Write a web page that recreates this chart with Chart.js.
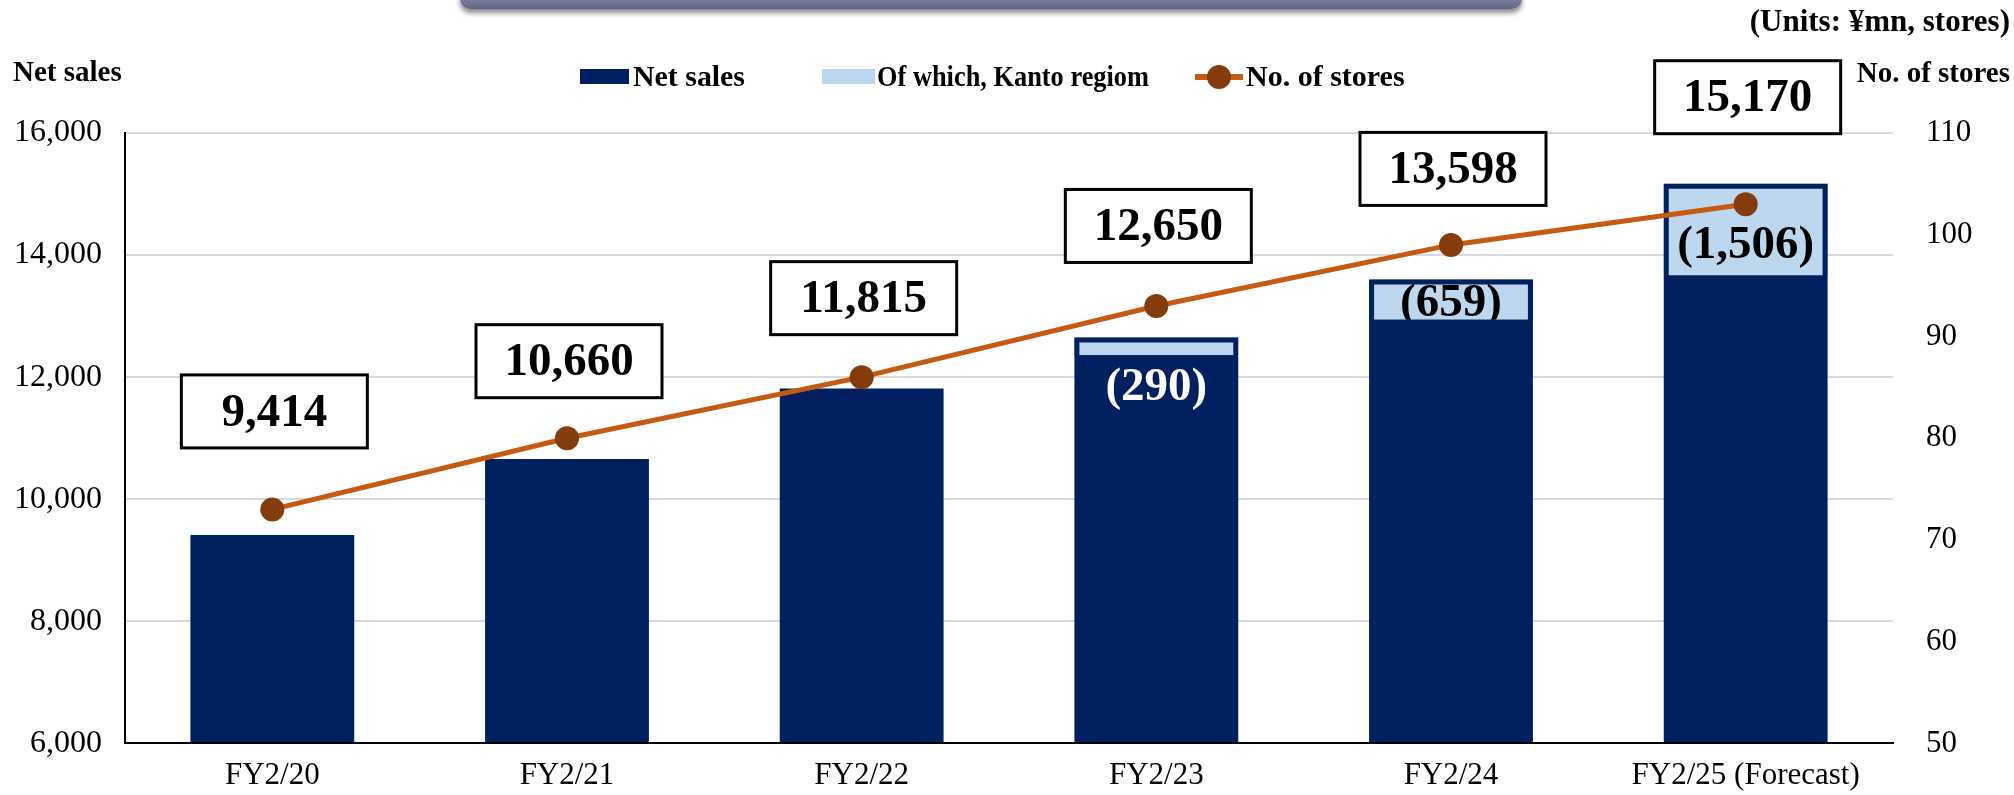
<!DOCTYPE html>
<html>
<head>
<meta charset="utf-8">
<script src="https://cdn.jsdelivr.net/npm/chart.js@4.4.1/dist/chart.umd.min.js"></script>
<style>
html, body { margin: 0; padding: 0; background: #fff; }
#wrap { position: relative; width: 2014px; height: 795px; overflow: hidden; }
#chartSales { position: absolute; left: 0; top: 0; }
#banner {
    position: absolute; left: 460px; top: -14px; width: 1062px; height: 23px;
    border-radius: 10px; background: linear-gradient(#9d9db8, #64648a);
    box-shadow: 0 4px 5px rgba(0, 0, 0, 0.45);
}
</style>
</head>
<body>
<div id="wrap">
    <canvas id="chartSales" width="2014" height="795"></canvas>
    <div id="banner"></div>
</div>
<script>
// ==============================
// Data
// ==============================
const categories = ['FY2/20', 'FY2/21', 'FY2/22', 'FY2/23', 'FY2/24', 'FY2/25 (Forecast)'];
const netSales = [9414, 10660, 11815, 12650, 13598, 15170];
const kantoSales = [null, null, null, 290, 659, 1506];
const storeCounts = [73, 80, 86, 93, 99, 103];
const salesAxis = [6000, 16000, 2000];   // min, max, step
const storeAxis = [50, 110, 10];

// label layout (px) - boxes sit above the store markers, kanto text shifted from box middle
const totalLift = [98, 77, 79, 80, 76, 107];
const kantoShift = [0, 0, 0, 40, 2, 14];
const kantoTextColor = [null, null, null, '#ffffff', '#000000', '#000000'];

const NAVY = '#002060';
const LIGHT = '#BDD7EE';
const ORANGE = '#C55A11';
const BROWN = '#843C0C';
const FONT = '"Liberation Serif", "Times New Roman", serif';

function fmt(v) { return v.toLocaleString('en-US'); }

// ==============================
// Plugins
// ==============================
const valueBoxes = {
    id: 'valueBoxes',
    afterDatasetsDraw(chart) {
        const ctx = chart.ctx;
        const bars = chart.getDatasetMeta(0).data;
        const kanto = chart.getDatasetMeta(1).data;
        const dots = chart.getDatasetMeta(2).data;
        ctx.save();
        ctx.textAlign = 'center';
        ctx.textBaseline = 'middle';
        ctx.font = 'bold 47px ' + FONT;

        // kanto figures
        kantoSales.forEach((v, i) => {
            if (v == null) return;
            const el = kanto[i];
            const x = el.x;
            const y = (el.y + el.base) / 2 + kantoShift[i];
            ctx.save();
            if (kantoTextColor[i] === '#000000') {
                ctx.beginPath();
                ctx.rect(x - el.width / 2, el.y, el.width, el.base - el.y);
                ctx.clip();
            }
            ctx.fillStyle = kantoTextColor[i];
            ctx.fillText('(' + fmt(v) + ')', x, y + 2);
            ctx.restore();
        });

        // totals in boxes
        netSales.forEach((v, i) => {
            const x = bars[i].x + 2;
            const y = dots[i].y - totalLift[i];
            const w = 186, h = 73;
            ctx.fillStyle = '#fff';
            ctx.fillRect(x - w / 2, y - h / 2, w, h);
            ctx.lineWidth = 3;
            ctx.strokeStyle = '#000';
            ctx.strokeRect(x - w / 2, y - h / 2, w, h);
            ctx.fillStyle = '#000';
            ctx.fillText(fmt(v), x, y + 2);
        });
        ctx.restore();
    }
};

const headerTexts = {
    id: 'headerTexts',
    afterDraw(chart) {
        const ctx = chart.ctx;
        const ds = chart.data.datasets;
        ctx.save();
        ctx.fillStyle = '#000';
        ctx.textBaseline = 'alphabetic';

        ctx.font = 'bold 31px ' + FONT;
        ctx.textAlign = 'right';
        ctx.fillText('(Units: ¥mn, stores)', 2010, 31);

        ctx.font = 'bold 29px ' + FONT;
        ctx.fillText('No. of stores', 2010, 82);
        ctx.textAlign = 'left';
        ctx.fillText('Net sales', 13, 81);

        // legend
        ctx.font = 'bold 30px ' + FONT;
        ctx.fillStyle = ds[0].backgroundColor;
        ctx.fillRect(580, 69, 49, 15);
        ctx.fillStyle = '#000';
        ctx.fillText(ds[0].label, 633, 86, 112);

        ctx.fillStyle = ds[1].backgroundColor;
        ctx.fillRect(822, 69, 53, 15);
        ctx.fillStyle = '#000';
        ctx.fillText(ds[1].label, 877, 86, 272);

        ctx.strokeStyle = ds[2].borderColor;
        ctx.lineWidth = 6;
        ctx.beginPath();
        ctx.moveTo(1195, 77);
        ctx.lineTo(1243, 77);
        ctx.stroke();
        ctx.fillStyle = ds[2].pointBackgroundColor;
        ctx.beginPath();
        ctx.arc(1219, 77, 12, 0, Math.PI * 2);
        ctx.fill();
        ctx.fillStyle = '#000';
        ctx.fillText(ds[2].label, 1246, 86, 163);
        ctx.restore();
    }
};

// ==============================
// Chart
// ==============================
const tickFont = { family: FONT, size: 31 };

new Chart(document.getElementById('chartSales'), {
    type: 'bar',
    data: {
        labels: categories,
        datasets: [
            {
                label: 'Net sales',
                data: netSales,
                backgroundColor: NAVY,
                borderWidth: 0,
                grouped: false,
                barPercentage: 0.556,
                categoryPercentage: 1,
                yAxisID: 'y',
                order: 2
            },
            {
                label: 'Of which, Kanto regiom',
                data: kantoSales.map((v, i) => v == null ? null : [netSales[i] - v, netSales[i]]),
                backgroundColor: LIGHT,
                borderColor: NAVY,
                borderWidth: { top: 5, left: 5, right: 5, bottom: 0 },
                borderSkipped: false,
                grouped: false,
                barPercentage: 0.556,
                categoryPercentage: 1,
                yAxisID: 'y',
                order: 1
            },
            {
                type: 'line',
                label: 'No. of stores',
                data: storeCounts,
                borderColor: ORANGE,
                borderWidth: 5,
                pointRadius: 12,
                pointHoverRadius: 12,
                pointBackgroundColor: BROWN,
                pointBorderWidth: 0,
                tension: 0,
                yAxisID: 'y1',
                order: 0
            }
        ]
    },
    options: {
        responsive: false,
        devicePixelRatio: 1,
        animation: false,
        layout: { padding: { top: 133, left: 0, right: 0, bottom: 0 } },
        plugins: { legend: { display: false }, tooltip: { enabled: false } },
        scales: {
            x: {
                grid: { display: false, drawTicks: false },
                border: { display: true, color: '#000', width: 2, z: 1 },
                ticks: { font: tickFont, color: '#000', padding: 14, maxRotation: 0 },
                afterFit(s) { s.height = 51; }
            },
            y: {
                position: 'left',
                min: salesAxis[0], max: salesAxis[1],
                ticks: { stepSize: salesAxis[2], font: { family: FONT, size: 32 }, color: '#000', padding: 23, callback: v => fmt(v) },
                grid: { color: '#d9d9d9', lineWidth: 2, drawTicks: false },
                border: { color: '#000', width: 2, z: 1 },
                afterFit(s) { s.width = 125; }
            },
            y1: {
                position: 'right',
                min: storeAxis[0], max: storeAxis[1],
                ticks: { stepSize: storeAxis[2], font: tickFont, color: '#000', padding: 33 },
                grid: { display: false, drawTicks: false },
                border: { display: false },
                afterFit(s) { s.width = 121; }
            }
        }
    },
    plugins: [valueBoxes, headerTexts]
});
</script>
</body>
</html>
